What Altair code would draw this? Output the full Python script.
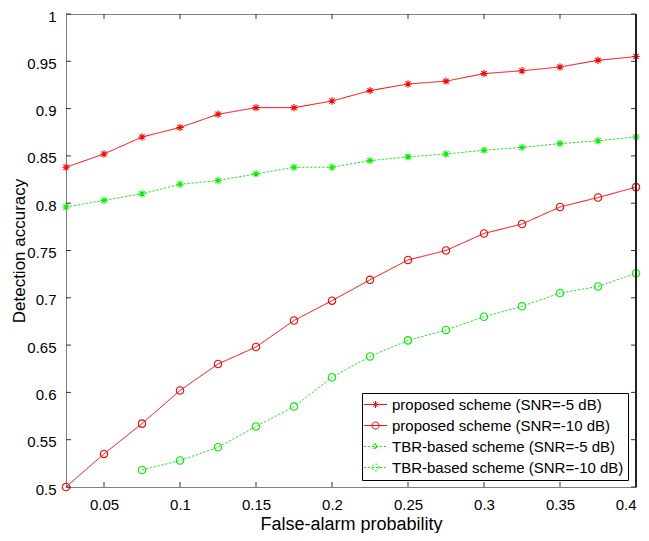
import altair as alt
import pandas as pd

# ---- data ----
fa = [0.025, 0.05, 0.075, 0.1, 0.125, 0.15, 0.175, 0.2, 0.225, 0.25,
      0.275, 0.3, 0.325, 0.35, 0.375, 0.4]
prop_5 = [0.838, 0.852, 0.870, 0.880, 0.894, 0.901, 0.901, 0.908, 0.919, 0.926,
          0.929, 0.937, 0.940, 0.944, 0.951, 0.955]
prop_10 = [0.500, 0.535, 0.567, 0.602, 0.630, 0.648, 0.676, 0.697, 0.719, 0.740,
           0.750, 0.768, 0.778, 0.796, 0.806, 0.817]
tbr_5 = [0.796, 0.803, 0.810, 0.820, 0.824, 0.831, 0.838, 0.838, 0.845, 0.849,
         0.852, 0.856, 0.859, 0.863, 0.866, 0.870]
fa_tbr10 = [0.075, 0.1, 0.125, 0.15, 0.175, 0.2, 0.225, 0.25,
            0.275, 0.3, 0.325, 0.35, 0.375, 0.4]
tbr_10 = [0.518, 0.528, 0.542, 0.564, 0.585, 0.616, 0.638, 0.655,
          0.666, 0.680, 0.691, 0.705, 0.712, 0.726]

series_names = [
    "proposed scheme (SNR=-5 dB)",
    "proposed scheme (SNR=-10 dB)",
    "TBR-based scheme (SNR=-5 dB)",
    "TBR-based scheme (SNR=-10 dB)",
]
x_ticks = [0.05, 0.1, 0.15, 0.2, 0.25, 0.3, 0.35, 0.4]
y_ticks = [0.5, 0.55, 0.6, 0.65, 0.7, 0.75, 0.8, 0.85, 0.9, 0.95, 1.0]

colors = ["#ff0000", "#ff0000", "#00f000", "#00f000"]
dashes = [[1, 0], [1, 0], [2, 2], [2, 2]]
ASTER = "M-1,0H1M0,-1V1M-0.7,-0.7L0.7,0.7M-0.7,0.7L0.7,-0.7"
CIRC = "M1,0A1,1 0 1 1 -1,0A1,1 0 1 1 1,0"
LINE = "M-3.3,0H3.3"
point_shapes = [ASTER, "circle", ASTER, "circle"]
legend_shapes = [LINE + ASTER, LINE + CIRC, LINE + ASTER, LINE + CIRC]

rows = []
for name, xs, ys in [
    (series_names[0], fa, prop_5),
    (series_names[1], fa, prop_10),
    (series_names[2], fa, tbr_5),
    (series_names[3], fa_tbr10, tbr_10),
]:
    for xv, yv in zip(xs, ys):
        rows.append({"fa": xv, "acc": yv, "series": name})
df = pd.DataFrame(rows)

W, H = 570, 473
FONT = "Liberation Sans"

xscale = alt.Scale(domain=[0.025, 0.4], nice=False, zero=False)
yscale = alt.Scale(domain=[0.5, 1.0], nice=False, zero=False)

x_enc = alt.X("fa:Q", scale=xscale, axis=alt.Axis(
    values=x_ticks, format="~g", title="False-alarm probability",
    grid=False, ticks=False, tickSize=0, domainColor="#808080",
    labelFontSize=15, labelColor="#000", labelPadding=10, labelFont=FONT,
    titleFont=FONT, titleFontSize=18, titleFontWeight="normal", titleColor="#000",
    titleY=42, titleBaseline="alphabetic"))
y_enc = alt.Y("acc:Q", scale=yscale, axis=alt.Axis(
    values=y_ticks, format="~g", title="Detection accuracy",
    grid=False, ticks=False, tickSize=0, domainColor="#808080",
    labelFontSize=15, labelColor="#000", labelPadding=10, labelFont=FONT,
    labelOffset=2,
    titleFont=FONT, titleFontSize=17, titleFontWeight="normal", titleColor="#000",
    titleX=-42, titleY=H / 2, titleAlign="center", titleBaseline="alphabetic",
    titleAngle=270))

cscale = alt.Scale(domain=series_names, range=colors)
dscale = alt.Scale(domain=series_names, range=dashes)

base = alt.Chart(df)

lines = base.mark_line(strokeWidth=1).encode(
    x=x_enc, y=y_enc,
    color=alt.Color("series:N", scale=cscale, legend=None),
    strokeDash=alt.StrokeDash("series:N", scale=dscale, legend=None),
)

points = base.mark_point(filled=False, strokeWidth=1.1, size=55, opacity=1).encode(
    x=alt.X("fa:Q", scale=xscale),
    y=alt.Y("acc:Q", scale=yscale),
    color=alt.Color("series:N", scale=cscale, legend=None),
    shape=alt.Shape("series:N", scale=alt.Scale(domain=series_names, range=point_shapes), legend=None),
)

leg = alt.Legend(
    title=None, orient="none", legendX=296, legendY=379,
    fillColor="white", strokeColor="black", padding=4, cornerRadius=0,
    labelFont=FONT, labelFontSize=15, labelColor="#000", labelLimit=400,
    symbolSize=49, symbolStrokeWidth=1, symbolOpacity=1,
    symbolOffset=2, labelOffset=9, rowPadding=5,
)
legend_df = pd.DataFrame({"series": series_names})
legend_layer = alt.Chart(legend_df).mark_point(filled=False, opacity=0, strokeWidth=1).encode(
    color=alt.Color("series:N", scale=cscale, legend=leg),
    shape=alt.Shape("series:N", scale=alt.Scale(domain=series_names, range=legend_shapes), legend=leg),
    strokeDash=alt.StrokeDash("series:N", scale=dscale, legend=leg),
)

xt = pd.DataFrame({"v": x_ticks})
yt = pd.DataFrame({"v": y_ticks})
tick_style = dict(color="#333333", strokeWidth=1)
tb = alt.Chart(xt).mark_rule(**tick_style).encode(
    x=alt.X("v:Q", scale=xscale), y=alt.value(H), y2=alt.value(H - 5))
tt = alt.Chart(xt).mark_rule(**tick_style).encode(
    x=alt.X("v:Q", scale=xscale), y=alt.value(0), y2=alt.value(5))
tl = alt.Chart(yt).mark_rule(**tick_style).encode(
    y=alt.Y("v:Q", scale=yscale), x=alt.value(0), x2=alt.value(5))
tr = alt.Chart(yt).mark_rule(**tick_style).encode(
    y=alt.Y("v:Q", scale=yscale), x=alt.value(W), x2=alt.value(W - 5))
right_edge = alt.Chart(xt).mark_rule(color="#222222", strokeWidth=1).encode(
    x=alt.value(W), y=alt.value(0), y2=alt.value(H))

chart = alt.layer(
    lines, points, legend_layer, tb, tt, tl, tr, right_edge
).resolve_scale(
    color="independent", shape="independent", strokeDash="independent"
).properties(
    width=W, height=H,
    autosize=alt.AutoSizeParams(type="none"),
    padding={"left": 58, "top": 6, "right": 5, "bottom": 46},
    background="white",
).configure_view(stroke="#808080", strokeWidth=1)

chart.save("out.html", embed_options={"renderer": "svg", "actions": False})
